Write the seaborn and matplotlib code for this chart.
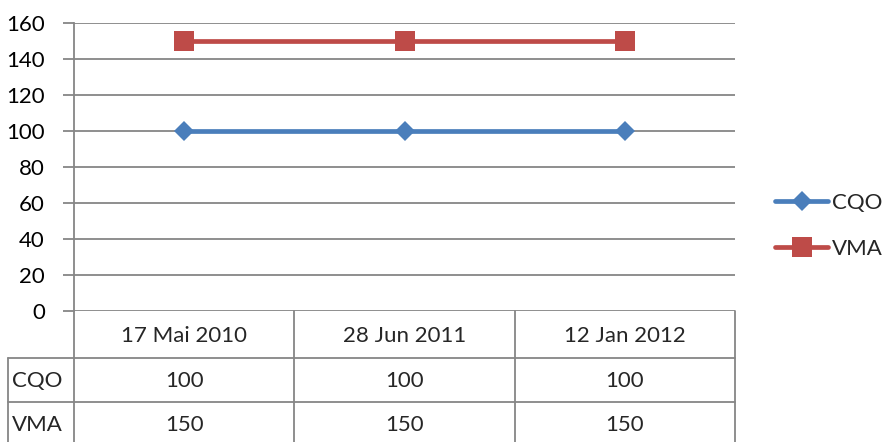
import matplotlib
matplotlib.use("Agg")
import matplotlib.pyplot as plt
from matplotlib.lines import Line2D
import seaborn as sns
import pandas as pd

dates = ["17 Mai 2010", "28 Jun 2011", "12 Jan 2012"]
series_names = ["CQO", "VMA"]
cqo_values = [100, 100, 100]
vma_values = [150, 150, 150]
y_ticks = [0, 20, 40, 60, 80, 100, 120, 140, 160]

colors = {"CQO": "#4A7EBB", "VMA": "#BE4B48"}
markers = {"CQO": "D", "VMA": "s"}
msizes = {"CQO": 9.8, "VMA": 14}
grid_col = "#868686"

sns.set_theme(style="white")
plt.rcParams["font.family"] = ["Lato", "DejaVu Sans"]
FS = 16

df = pd.DataFrame({
    "date": dates * 2,
    "pos": list(range(len(dates))) * 2,
    "value": cqo_values + vma_values,
    "series": ["CQO"] * len(dates) + ["VMA"] * len(dates),
})

W, H = 890, 442
fig = plt.figure(figsize=(W / 100, H / 100), dpi=100)
L, R, T, B = 74, 735, 23, 311
ax = fig.add_axes([L / W, 1 - B / H, (R - L) / W, (B - T) / H])

sns.lineplot(data=df, x="pos", y="value", hue="series", style="series",
             palette=colors, markers=markers, dashes=False, linewidth=3.4,
             markersize=12, markeredgewidth=0, ax=ax, legend=False)
# per-series marker sizes
for line in ax.get_lines():
    for n in series_names:
        if line.get_marker() == Line2D([], [], marker=markers[n]).get_marker():
            line.set_markersize(msizes[n])

ax.set_xlim(-0.5, len(dates) - 0.5)
ax.set_ylim(0, 160)
ax.set_yticks(y_ticks)
ax.set_yticklabels([str(v) for v in y_ticks], fontsize=FS, color="black")
ax.set_xticks([])
ax.set_xlabel("")
ax.set_ylabel("")
ax.tick_params(axis="y", length=8, width=1.3, color=grid_col, pad=13, left=True)
for v in y_ticks:
    ax.axhline(v, color=grid_col, lw=1.3, zorder=0)
for s in ["top", "right", "bottom"]:
    ax.spines[s].set_visible(False)
ax.spines["left"].set_color(grid_col)
ax.spines["left"].set_linewidth(1.3)

# data table below the axis
def px(x, y):
    return x / W, 1 - y / H

col_edges = [L + (R - L) * i / len(dates) for i in range(len(dates) + 1)]
row_edges = [B, 358, 402, 446]
first_left = 8

def hline(y, x0, x1):
    (a, b), (c, d) = px(x0, y), px(x1, y)
    fig.add_artist(Line2D([a, c], [b, d], color=grid_col, lw=1.3))

def vline(x, y0, y1):
    (a, b), (c, d) = px(x, y0), px(x, y1)
    fig.add_artist(Line2D([a, c], [b, d], color=grid_col, lw=1.3))

hline(row_edges[1], first_left, R)
hline(row_edges[2], first_left, R)
vline(L, B, H)
for x in col_edges[1:]:
    vline(x, B, H)
vline(first_left, row_edges[1], H)

for i, d in enumerate(dates):
    cx = (col_edges[i] + col_edges[i + 1]) / 2
    fig.text(*px(cx, (row_edges[0] + row_edges[1]) / 2 + 1), d, ha="center",
             va="center", fontsize=FS)
for r, (name, vals) in enumerate(zip(series_names, [cqo_values, vma_values])):
    cy = (row_edges[r + 1] + row_edges[r + 2]) / 2 + 1
    fig.text(*px(first_left + 4, cy), name, ha="left", va="center", fontsize=FS)
    for i, v in enumerate(vals):
        cx = (col_edges[i] + col_edges[i + 1]) / 2
        fig.text(*px(cx, cy), str(v), ha="center", va="center", fontsize=FS)

handles = [Line2D([], [], color=colors[n], marker=markers[n], lw=3.4,
                  markersize=msizes[n], markeredgewidth=0) for n in series_names]
fig.legend(handles, series_names, loc="center left",
           bbox_to_anchor=(775 / W, 1 - 226 / H), frameon=False,
           fontsize=FS, handlelength=2.4, handletextpad=0.15,
           labelspacing=1.15, borderpad=0, borderaxespad=0)

fig.savefig("out.png", dpi=100)
